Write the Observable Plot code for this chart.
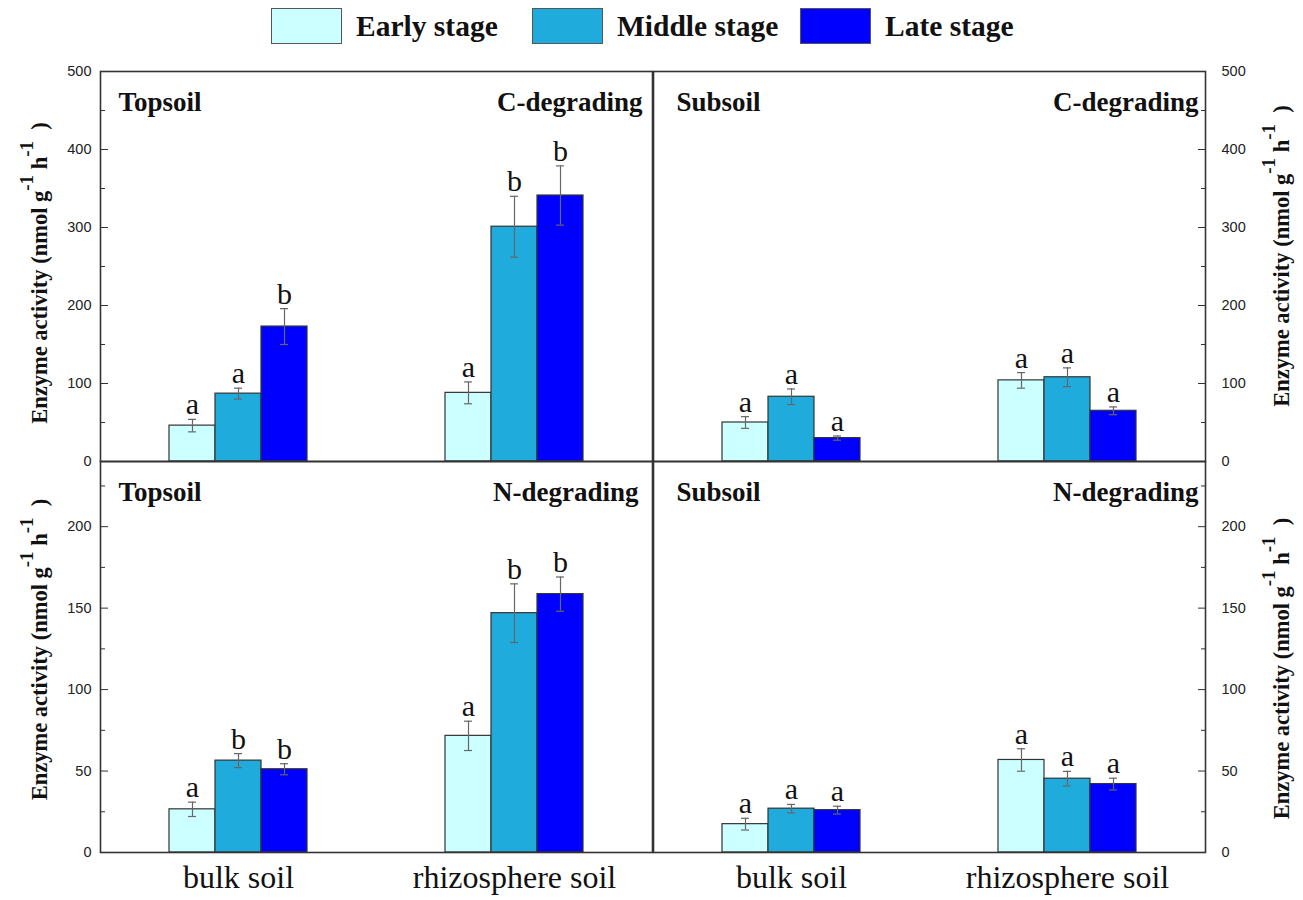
<!DOCTYPE html>
<html>
<head>
<meta charset="utf-8">
<script src="https://cdn.jsdelivr.net/npm/d3@7"></script>
<script src="https://cdn.jsdelivr.net/npm/@observablehq/plot@0.6"></script>
<style>
  body { margin: 0; background: #fff; }
  #fig { position: relative; width: 1303px; height: 900px; background: #fff; overflow: hidden; }
  #fig svg { position: absolute; }
  .legend { position: absolute; left: 0; top: 8px; width: 1303px; height: 40px;
            font-family: "Liberation Serif", "Times New Roman", serif; font-weight: bold; font-size: 29.5px; color: #111; }
  .legend .item { position: absolute; top: 0; display: flex; align-items: center; white-space: nowrap; }
  .legend .sw { width: 71px; height: 36px; border: 1px solid #555; box-sizing: border-box; margin-right: 14px; }
</style>
</head>
<body>
<div id="fig"></div>
<script>
// Categories
const soils = ["bulk soil", "rhizosphere soil"];
const stages = ["Early stage", "Middle stage", "Late stage"];
const stageColors = ["#ccffff", "#20abdd", "#0000ff"];

// Enzyme activity (nmol g-1 h-1), order: bulk E, M, L, rhizosphere E, M, L
const topsoilC = [46, 87, 173, 88, 301, 341];
const topsoilCErr = [8, 7, 23, 14, 39, 38];
const topsoilCLetters = ["a", "a", "b", "a", "b", "b"];

const subsoilC = [50, 83, 30, 104, 108, 65];
const subsoilCErr = [7.5, 10, 2.7, 10, 12, 5];
const subsoilCLetters = ["a", "a", "a", "a", "a", "a"];

const topsoilN = [26.5, 56.4, 51.1, 71.6, 146.9, 158.6];
const topsoilNErr = [4.4, 4.3, 3.4, 9, 18, 10.5];
const topsoilNLetters = ["a", "b", "b", "a", "b", "b"];

const subsoilN = [17.4, 26.9, 26, 56.8, 45.3, 42];
const subsoilNErr = [3.6, 2.6, 2.4, 6.9, 4.5, 3.6];
const subsoilNLetters = ["a", "a", "a", "a", "a", "a"];

// Axis ticks
const cTicks = [0, 100, 200, 300, 400, 500];
const cMinor = [50, 150, 250, 350, 450];
const nTicks = [0, 50, 100, 150, 200];
const nMinor = [25, 75, 125, 175, 225];

const SERIF = "Liberation Serif, Times New Roman, serif";
const SANS = "Liberation Sans, Arial, sans-serif";
const fig = document.getElementById("fig");

// Legend (one swatch + label per stage)
const legendLeft = [271, 532, 800];
const legend = d3.select(fig).append("div").attr("class", "legend");
stages.forEach((s, i) => {
  const item = legend.append("div").attr("class", "item").style("left", legendLeft[i] + "px");
  item.append("div").attr("class", "sw").style("background", stageColors[i]);
  item.append("span").text(s);
});

function panel(o) {
  const data = o.values.map((v, i) => ({
    soil: soils[Math.floor(i / 3)],
    stage: stages[i % 3],
    value: v,
    lo: v - o.errors[i],
    hi: v + o.errors[i],
    letter: o.letters[i]
  }));
  const ax = o.side;
  const marks = [
    Plot.barY(data, {fx: "soil", x: "stage", y: "value", fill: "stage", stroke: "#333", strokeWidth: 1.2}),
    Plot.ruleX(data, {fx: "soil", x: "stage", y1: "lo", y2: "hi", stroke: "#666", strokeWidth: 1.2}),
    Plot.tickY(data, {fx: "soil", x: "stage", y: "lo", stroke: "#666", strokeWidth: 1.2, insetLeft: 19, insetRight: 19}),
    Plot.tickY(data, {fx: "soil", x: "stage", y: "hi", stroke: "#666", strokeWidth: 1.2, insetLeft: 19, insetRight: 19}),
    Plot.text(data, {fx: "soil", x: "stage", y: "hi", text: "letter", lineAnchor: "bottom", dy: -5,
                     fontSize: 30, fontFamily: SERIF, fill: "#111"}),
    Plot.text([o.layer], {fx: [soils[0]], frameAnchor: "top-left", textAnchor: "start", lineAnchor: "top",
                          dx: o.layerDx, dy: 20.5, fontSize: 27, fontWeight: "bold", fontFamily: SERIF, fill: "#111"}),
    Plot.text([o.kind], {fx: [soils[1]], frameAnchor: "top-right", textAnchor: "end", lineAnchor: "top",
                         dx: o.kindDx, dy: 20.5, fontSize: 27, fontWeight: "bold", fontFamily: SERIF, fill: "#111"}),
    Plot.axisY({anchor: ax, ticks: o.major, tickSize: -8, tickFormat: () => "", label: null, stroke: "#333"}),
    Plot.axisY({anchor: ax, ticks: o.minor, tickSize: -5, tickFormat: () => "", label: null, stroke: "#333"}),
    Plot.axisY({anchor: ax, ticks: o.major, tickSize: 0, tickPadding: o.tickPad, label: null,
                fontSize: 14.5, fontFamily: SANS, fill: "#222"}),
    Plot.frame({facet: "super", stroke: "#333", strokeWidth: 1.6})
  ];
  if (o.showSoil) {
    marks.push(Plot.axisFx({anchor: "bottom", tickSize: 0, tickPadding: 13, label: null,
                            fontSize: 32, fontFamily: SERIF, fill: "#111"}));
  }
  const svg = Plot.plot({
    width: o.width, height: o.height,
    marginLeft: o.mL, marginRight: o.mR, marginTop: o.mT, marginBottom: o.mB,
    style: {background: "transparent", overflow: "visible", fontFamily: SANS},
    fx: {domain: soils, padding: 0, axis: null, label: null},
    x: {domain: stages, paddingInner: 0, paddingOuter: 1.5, axis: null},
    y: {domain: [0, o.yMax], axis: null},
    color: {domain: stages, range: stageColors},
    marks
  });
  svg.style.left = o.left + "px";
  svg.style.top = o.top + "px";

  // Y axis title with raised exponents
  const fh = o.height - o.mT - o.mB;
  const lx = ax === "left" ? o.mL - 53 : o.width - o.mR + 84;
  const t = d3.select(svg).append("text")
    .attr("transform", `translate(${lx},${o.mT + fh / 2 + o.titleShift}) rotate(-90)`)
    .attr("text-anchor", "middle")
    .attr("font-family", SERIF)
    .attr("font-weight", "bold")
    .attr("font-size", 22.5)
    .attr("fill", "#111");
  t.append("tspan").text("Enzyme activity (nmol g");
  t.append("tspan").attr("dy", -14).attr("font-size", 19).text("-1");
  t.append("tspan").attr("dy", 14).text("\u00a0h");
  t.append("tspan").attr("dy", -14).attr("font-size", 19).text("-1");
  t.append("tspan").attr("dy", 14).text("\u00a0\u00a0)");

  fig.appendChild(svg);
}

panel({left: 0, top: 61, width: 656, height: 404, mL: 100, mR: 4, mT: 10, mB: 4,
       values: topsoilC, errors: topsoilCErr, letters: topsoilCLetters,
       yMax: 500, major: cTicks, minor: cMinor, side: "left", tickPad: 9, titleShift: 7,
       layer: "Topsoil", kind: "C-degrading", layerDx: 18, kindDx: -10, showSoil: false});

panel({left: 648, top: 61, width: 655, height: 404, mL: 4, mR: 98, mT: 10, mB: 4,
       values: subsoilC, errors: subsoilCErr, letters: subsoilCLetters,
       yMax: 500, major: cTicks, minor: cMinor, side: "right", tickPad: 16, titleShift: -10,
       layer: "Subsoil", kind: "C-degrading", layerDx: 23, kindDx: -7, showSoil: false});

panel({left: 0, top: 451, width: 656, height: 449, mL: 100, mR: 4, mT: 10, mB: 48,
       values: topsoilN, errors: topsoilNErr, letters: topsoilNLetters,
       yMax: 240, major: nTicks, minor: nMinor, side: "left", tickPad: 9, titleShift: -7,
       layer: "Topsoil", kind: "N-degrading", layerDx: 18, kindDx: -14, showSoil: true});

panel({left: 648, top: 451, width: 655, height: 449, mL: 4, mR: 98, mT: 10, mB: 48,
       values: subsoilN, errors: subsoilNErr, letters: subsoilNLetters,
       yMax: 240, major: nTicks, minor: nMinor, side: "right", tickPad: 16, titleShift: 12,
       layer: "Subsoil", kind: "N-degrading", layerDx: 23, kindDx: -7, showSoil: true});
</script>
</body>
</html>
